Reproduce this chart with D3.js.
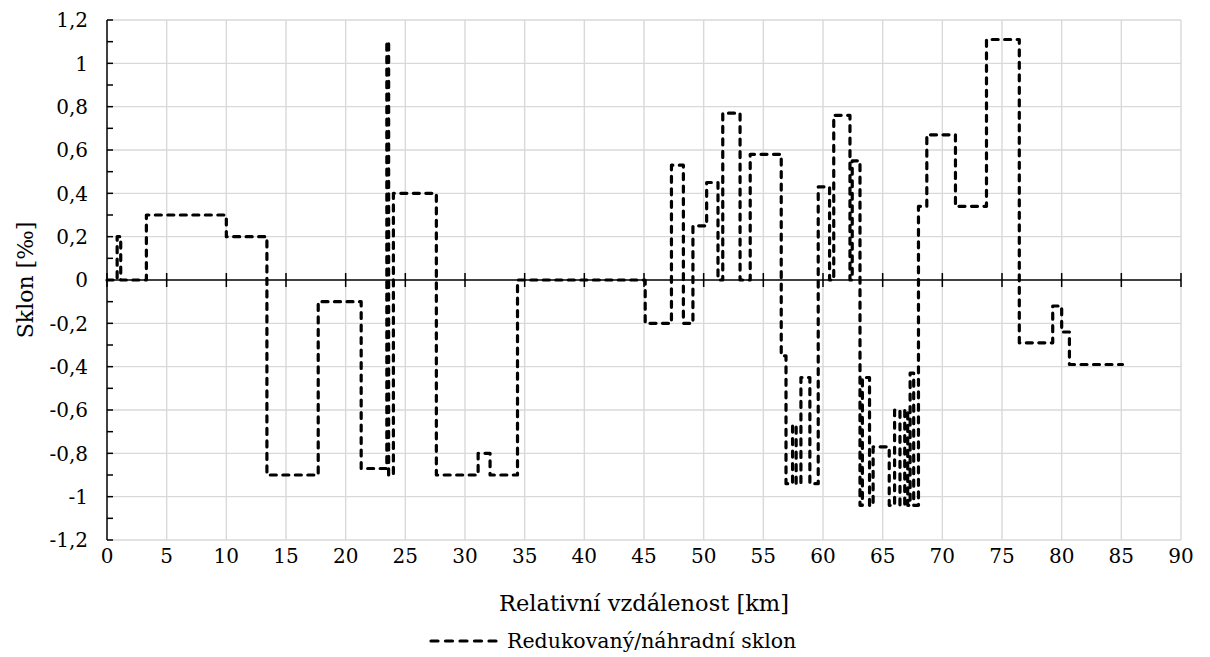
<!DOCTYPE html>
<html>
<head>
<meta charset="utf-8">
<script src="https://cdn.jsdelivr.net/npm/d3@7"></script>
<style>
  html, body { margin: 0; padding: 0; background: #fff; }
  svg text { font-family: "DejaVu Serif", "Liberation Serif", serif; fill: #000; }
</style>
</head>
<body>
<svg id="chart" width="1210" height="657"></svg>
<script>
// Reduced / substitute gradient along the line: each entry starts a step
// at the given chainage (km) and holds its slope (‰) until the next one.
const stepKm = [0, 0.85, 1.15, 3.3, 10.0, 13.4, 17.7, 21.3, 23.45, 23.6, 24.0, 27.6,
  31.1, 32.1, 34.4, 45.1, 47.3, 48.3, 49.1, 50.25, 51.2, 51.6, 53.05, 53.9,
  56.5, 56.9, 57.45, 57.75, 58.15, 58.9, 59.6, 60.55, 60.9, 62.26, 62.45, 63.1,
  63.3, 63.9, 64.2, 65.55, 66.0, 66.45, 66.85, 67.1, 67.3, 67.6, 68.0, 68.7,
  71.1, 73.7, 76.45, 79.25, 80.0, 80.65, 85.1];
const stepSlope = [0, 0.2, 0, 0.3, 0.2, -0.9, -0.1, -0.87, 1.1, -0.9, 0.4, -0.9,
  -0.8, -0.9, 0, -0.2, 0.53, -0.2, 0.25, 0.45, 0, 0.77, 0, 0.58,
  -0.35, -0.94, -0.67, -0.94, -0.45, -0.94, 0.43, 0, 0.76, 0, 0.55, -1.04,
  -0.45, -1.04, -0.77, -1.04, -0.6, -1.04, -0.6, -1.04, -0.43, -1.04, 0.34, 0.67,
  0.34, 1.11, -0.29, -0.12, -0.24, -0.39, -0.39];

const xTicks = d3.range(0, 91, 5);
const yTicks = [-1.2, -1, -0.8, -0.6, -0.4, -0.2, 0, 0.2, 0.4, 0.6, 0.8, 1, 1.2];
const yMinorTicks = d3.range(-12, 13).map(d => d / 10);

const xTitle = "Relativní vzdálenost [km]";
const yTitle = "Sklon [‰]";
const seriesName = "Redukovaný/náhradní sklon";

const svg = d3.select("#chart");
const plotL = 107, plotR = 1181, plotT = 20, plotB = 540;

const x = d3.scaleLinear().domain([0, 90]).range([plotL, plotR]);
const y = d3.scaleLinear().domain([-1.2, 1.2]).range([plotB, plotT]);

const fmt = v => (Math.abs(v) < 1e-9 ? "0" : String(+v.toFixed(1)).replace(".", ","));

// gridlines
const grid = svg.append("g").attr("stroke", "#d9d9d9").attr("stroke-width", 1.4);
grid.selectAll("line.h").data(yTicks.filter(v => v !== 0)).join("line")
  .attr("class", "h")
  .attr("x1", plotL).attr("x2", plotR)
  .attr("y1", d => y(d)).attr("y2", d => y(d));
grid.selectAll("line.v").data(xTicks.filter(v => v !== 0)).join("line")
  .attr("class", "v")
  .attr("y1", plotT).attr("y2", plotB)
  .attr("x1", d => x(d)).attr("x2", d => x(d));

// vertical axis with inner ticks every 0.1
const yAxis = svg.append("g").attr("stroke", "#000").attr("stroke-width", 1.5);
yAxis.append("line").attr("x1", plotL).attr("x2", plotL).attr("y1", plotT).attr("y2", plotB);
yAxis.selectAll("line.t").data(yMinorTicks).join("line")
  .attr("class", "t")
  .attr("x1", plotL).attr("x2", plotL + 6)
  .attr("y1", d => y(d)).attr("y2", d => y(d));

// horizontal axis drawn through zero, with crossing ticks
const xAxis = svg.append("g").attr("stroke", "#000").attr("stroke-width", 1.5);
xAxis.append("line").attr("x1", plotL).attr("x2", plotR).attr("y1", y(0)).attr("y2", y(0));
xAxis.selectAll("line.t").data(xTicks).join("line")
  .attr("class", "t")
  .attr("x1", d => x(d)).attr("x2", d => x(d))
  .attr("y1", y(0) - 7).attr("y2", y(0) + 7);

// tick labels
svg.append("g").selectAll("text").data(yTicks).join("text")
  .attr("x", 88).attr("y", d => y(d)).attr("dy", "0.36em")
  .attr("text-anchor", "end").attr("font-size", 20)
  .text(fmt);
svg.append("g").selectAll("text").data(xTicks).join("text")
  .attr("x", d => x(d)).attr("y", 563)
  .attr("text-anchor", "middle").attr("font-size", 20)
  .text(d => d);

// axis titles
svg.append("text").attr("x", (plotL + plotR) / 2).attr("y", 611)
  .attr("text-anchor", "middle").attr("font-size", 22.5).text(xTitle);
svg.append("text").attr("transform", `translate(33,${y(0)}) rotate(-90)`)
  .attr("text-anchor", "middle").attr("font-size", 22).text(yTitle);

// the stepped series
const pts = stepKm.map((k, i) => [k, stepSlope[i]]);
const line = d3.line().x(d => x(d[0])).y(d => y(d[1])).curve(d3.curveStepAfter);
svg.append("path").datum(pts)
  .attr("fill", "none").attr("stroke", "#000").attr("stroke-width", 3.2)
  .attr("stroke-linecap", "round").attr("stroke-linejoin", "round")
  .attr("stroke-dasharray", "6,6.5")
  .attr("d", line);

// legend
const lg = svg.append("g").attr("transform", "translate(0,641)");
lg.append("line").attr("x1", 431).attr("x2", 500).attr("y1", 0).attr("y2", 0)
  .attr("stroke", "#000").attr("stroke-width", 3.2)
  .attr("stroke-linecap", "round").attr("stroke-dasharray", "7,7.5");
lg.append("text").attr("x", 507).attr("y", 0).attr("dy", "0.35em")
  .attr("font-size", 20.5).text(seriesName);
</script>
</body>
</html>
